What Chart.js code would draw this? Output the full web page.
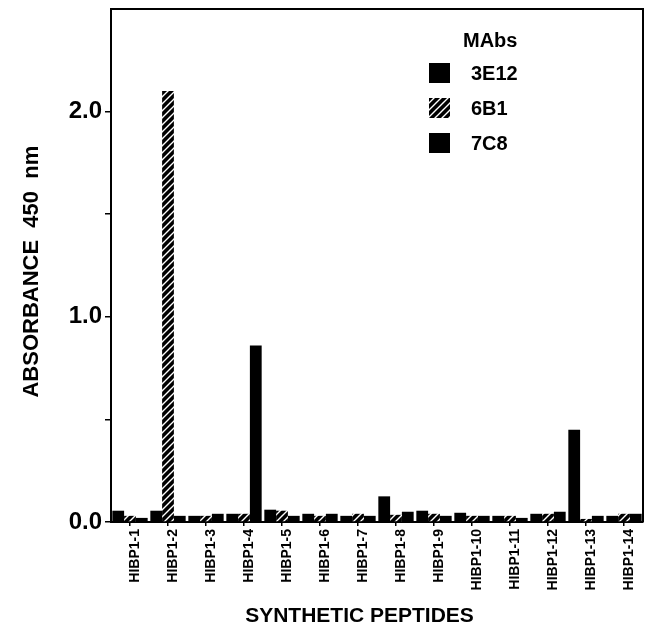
<!DOCTYPE html>
<html>
<head>
<meta charset="utf-8">
<script src="https://cdn.jsdelivr.net/npm/chart.js@4/dist/chart.umd.min.js"></script>
<style>
  html, body { margin: 0; padding: 0; background: #fff; }
  #wrap { width: 647px; height: 636px; }
</style>
</head>
<body>
<div id="wrap"><canvas id="elisaChart" width="647" height="636"></canvas></div>
<script>
const peptides = ['HIBP1-1', 'HIBP1-2', 'HIBP1-3', 'HIBP1-4', 'HIBP1-5', 'HIBP1-6', 'HIBP1-7',
  'HIBP1-8', 'HIBP1-9', 'HIBP1-10', 'HIBP1-11', 'HIBP1-12', 'HIBP1-13', 'HIBP1-14'];
const mab3E12 = [0.055, 0.055, 0.03, 0.04, 0.06, 0.04, 0.03, 0.125, 0.055, 0.045, 0.03, 0.04, 0.45, 0.03];
const mab6B1 = [0.03, 2.10, 0.03, 0.04, 0.055, 0.03, 0.04, 0.035, 0.04, 0.03, 0.03, 0.04, 0.015, 0.04];
const mab7C8 = [0.02, 0.03, 0.04, 0.86, 0.03, 0.04, 0.03, 0.05, 0.03, 0.03, 0.02, 0.05, 0.03, 0.04];
const yTicks = [0, 1, 2];

const font = 'Liberation Sans, Arial, Helvetica, sans-serif';

// black bar with white "/" stripes
const makeHatch = () => {
  const c = document.createElement('canvas');
  c.width = 7; c.height = 7;
  const g = c.getContext('2d');
  g.fillStyle = '#000';
  g.fillRect(0, 0, 7, 7);
  g.strokeStyle = '#fff';
  g.lineWidth = 1.4;
  g.beginPath();
  g.moveTo(-1, 8); g.lineTo(8, -1);
  g.moveTo(-1, 1); g.lineTo(1, -1);
  g.moveTo(6, 8); g.lineTo(8, 6);
  g.stroke();
  return g.createPattern(c, 'repeat');
};
const hatch = makeHatch();

// frame around the plot + legend inside the plot
const framePlugin = {
  id: 'frame',
  afterDraw(chart) {
    const { ctx, chartArea: a } = chart;
    ctx.save();
    ctx.strokeStyle = '#000';
    ctx.lineWidth = 2;
    ctx.beginPath();
    ctx.moveTo(a.left, a.top);
    ctx.lineTo(a.right, a.top);
    ctx.lineTo(a.right, a.bottom);
    ctx.stroke();

    ctx.fillStyle = '#000';
    ctx.font = 'bold 20px ' + font;
    ctx.textBaseline = 'middle';
    ctx.fillText('MAbs', 463, 41);
    chart.data.datasets.forEach((ds, i) => {
      const y = 73 + i * 35;
      ctx.fillStyle = ds.backgroundColor;
      ctx.fillRect(429, y - 10, 21, 20);
      ctx.fillStyle = '#000';
      ctx.fillText(ds.label, 471, y + 1);
    });
    ctx.restore();
  }
};

new Chart(document.getElementById('elisaChart'), {
  type: 'bar',
  data: {
    labels: peptides,
    datasets: [
      { label: '3E12', data: mab3E12, backgroundColor: '#000' },
      { label: '6B1', data: mab6B1, backgroundColor: hatch },
      { label: '7C8', data: mab7C8, backgroundColor: '#000' }
    ]
  },
  options: {
    responsive: false,
    animation: false,
    layout: { padding: { top: 9, right: 4, left: 0, bottom: 0 } },
    datasets: { bar: { barPercentage: 1, categoryPercentage: 0.93, borderWidth: 0 } },
    plugins: { legend: { display: false }, tooltip: { enabled: false } },
    scales: {
      x: {
        afterFit: s => { s.height = 114; },
        grid: { offset: false, drawOnChartArea: false, tickLength: 4, color: '#000', lineWidth: 1.5 },
        border: { color: '#000', width: 2 },
        ticks: {
          color: '#000', minRotation: 90, maxRotation: 90, padding: 3, labelOffset: 5,
          font: { family: font, size: 14, weight: 'bold' }
        },
        title: {
          display: true, text: 'SYNTHETIC PEPTIDES' + '\u00a0'.repeat(6), color: '#000',
          font: { family: font, size: 21, weight: 'bold' },
          padding: { top: 0, bottom: 7 }
        }
      },
      y: {
        min: 0, max: 2.5,
        afterFit: s => { s.width = 111; s.paddingTop = 0; s.paddingBottom = 0; },
        grid: {
          drawOnChartArea: false, tickLength: 6, lineWidth: 1.5,
          color: c => (c.tick && c.tick.value === 2.5) ? 'rgba(0,0,0,0)' : '#000'
        },
        border: { color: '#000', width: 2 },
        ticks: {
          stepSize: 0.5, color: '#000', padding: 3,
          font: { family: font, size: 24, weight: 'bold' },
          callback: v => yTicks.includes(v) ? v.toFixed(1) : ''
        },
        title: {
          display: true, text: 'ABSORBANCE  450  nm' + '\u00a0'.repeat(2), color: '#000',
          font: { family: font, size: 22, weight: 'bold' },
          padding: { top: 19, bottom: 0 }
        }
      }
    }
  },
  plugins: [framePlugin]
});
</script>
</body>
</html>
